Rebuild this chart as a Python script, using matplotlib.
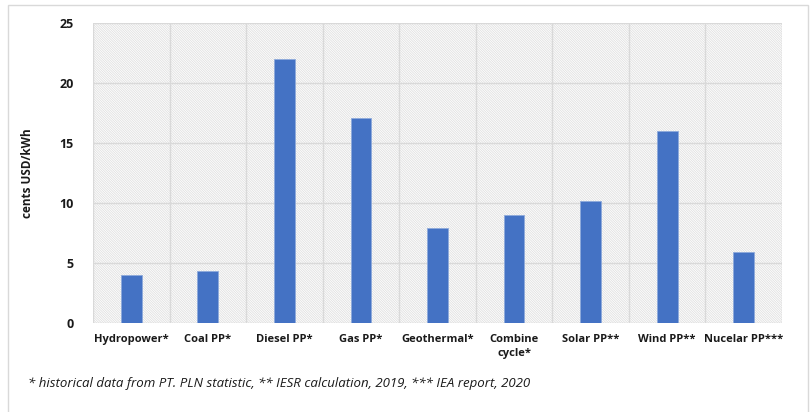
import numpy as np
import matplotlib.pyplot as plt
from matplotlib.patches import Rectangle

plt.rcParams['font.family'] = ['Open Sans', 'DejaVu Sans']
plt.rcParams['hatch.linewidth'] = 0.6

# Coût de production par type de centrale (cents USD/kWh)
categories = ['Hydropower*', 'Coal PP*', 'Diesel PP*', 'Gas PP*', 'Geothermal*',
              'Combine\ncycle*', 'Solar PP**', 'Wind PP**', 'Nucelar PP***']
costs = [4.0, 4.3, 22.0, 17.1, 7.9, 9.0, 10.2, 16.0, 5.9]
y_ticks = [0, 5, 10, 15, 20, 25]
note = '* historical data from PT. PLN statistic, ** IESR calculation, 2019, *** IEA report, 2020'

fig = plt.figure(figsize=(8.11, 4.12), dpi=100)
# cadre extérieur
fig.patches.append(Rectangle((8 / 811, -0.1), 800 / 811, 1.1 - 5 / 412, transform=fig.transFigure,
                             fill=False, edgecolor='#d9d9d9', linewidth=1))

ax = fig.add_axes([93 / 811, 1 - 323 / 412, 689 / 811, 300 / 412])
x = np.arange(len(categories))
ax.set_xlim(-0.5, len(categories) - 0.5)
ax.set_ylim(0, 25)

# fond hachuré
ax.add_patch(Rectangle((-0.5, 0), len(categories), 25, facecolor='white', edgecolor='#e0e0e0',
                       linewidth=0, hatch='\\' * 14, zorder=0))

for b in np.arange(-0.5, len(categories), 1):
    ax.axvline(b, color='#d9d9d9', linewidth=1.0, zorder=1)
for t in y_ticks:
    ax.axhline(t, color='#d9d9d9', linewidth=1.0, zorder=1)

ax.bar(x, costs, width=0.27, color='#4472C4', edgecolor='#8eaadb', linewidth=0.6, zorder=3)

for s in ax.spines.values():
    s.set_visible(False)
ax.set_xticks(x)
ax.set_xticklabels(categories, fontsize=8, fontweight='bold', color='#1a1a1a', va='top',
                   linespacing=1.3)
ax.set_yticks(y_ticks)
ax.set_yticklabels([str(t) for t in y_ticks], fontsize=9, fontweight='bold', color='#1a1a1a')
ax.tick_params(axis='both', length=0)
ax.tick_params(axis='x', pad=8)
ax.tick_params(axis='y', pad=14)
ax.set_ylabel('cents USD/kWh', fontsize=8.5, fontweight='bold', color='#1a1a1a', labelpad=18)

fig.text(28 / 811, 1 - 383 / 412, note, fontsize=9.5, style='italic', color='#1a1a1a', va='center')

fig.savefig('out.png', dpi=100)
